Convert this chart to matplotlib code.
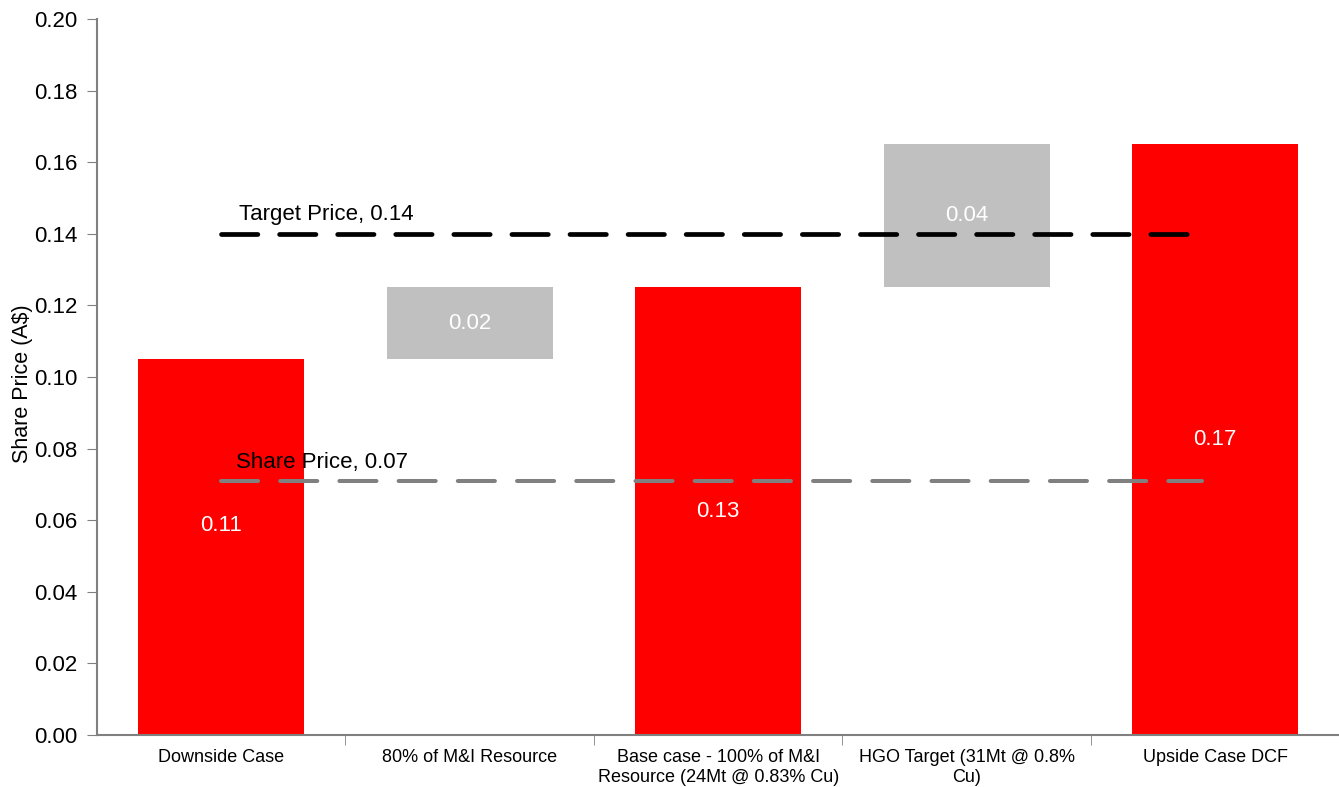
import numpy as np
import matplotlib.pyplot as plt

plt.rcParams['font.family'] = ['Liberation Sans', 'DejaVu Sans']

categories = ["Downside Case", "80% of M&I Resource",
              "Base case - 100% of M&I\nResource (24Mt @ 0.83% Cu)",
              "HGO Target (31Mt @ 0.8%\nCu)", "Upside Case DCF"]
bar_bottoms = [0.0, 0.105, 0.0, 0.125, 0.0]
bar_heights = [0.105, 0.02, 0.125, 0.04, 0.165]
value_labels = ["0.11", "0.02", "0.13", "0.04", "0.17"]
bar_colors = ["#FF0000", "#C0C0C0", "#FF0000", "#C0C0C0", "#FF0000"]
target_price = 0.14
share_price = 0.071

fig = plt.figure(figsize=(13.39, 7.87), dpi=100)
ax = fig.add_axes([0.0724, 0.066, 0.928, 0.910])

x = np.arange(len(categories))
ax.bar(x, bar_heights, bottom=bar_bottoms, width=0.667, color=bar_colors, zorder=2)

# value labels in the middle of each bar
for i in range(len(x)):
    yc = bar_bottoms[i] + bar_heights[i] / 2
    if i == 0:
        yc += 0.006  # Excel nudged this one up
    ax.text(x[i], yc, value_labels[i], color="white", ha="center", va="center",
            fontsize=16, zorder=4)

# reference lines
x_end = x[-1] - 0.055
ax.plot([x[0], x_end], [target_price, target_price], color="black",
        lw=3.4, dashes=(7.7, 4.6), dash_capstyle="round", zorder=3)
ax.plot([x[0], x_end], [share_price, share_price], color="#808080",
        lw=2.9, dashes=(9.2, 5.5), dash_capstyle="round", zorder=3)
ax.text(x[0] + 0.07, target_price + 0.0055, f"Target Price, {target_price:.2f}",
        fontsize=16, ha="left", va="center", zorder=5)
ax.text(x[0] + 0.06, share_price + 0.005, f"Share Price, {share_price:.2f}",
        fontsize=16, ha="left", va="center", zorder=5)

ax.set_xlim(-0.5, len(categories) - 0.5)
ax.set_ylim(0, 0.20)
ax.set_yticks(np.arange(0, 0.201, 0.02))
ax.yaxis.set_major_formatter(plt.FuncFormatter(lambda v, p: f"{v:.2f}"))
ax.set_xticks(x)
ax.set_xticklabels(categories, fontsize=13, linespacing=1.25)
ax.set_xticks(np.arange(0.5, len(categories) - 1, 1), minor=True)
ax.tick_params(axis="x", which="major", length=0, pad=10)
ax.tick_params(axis="x", which="minor", length=7, color="#808080", direction="out")
ax.tick_params(axis="y", length=7, color="#808080", labelsize=16, pad=7)
ax.set_ylabel("Share Price (A$)", fontsize=15.5)
ax.yaxis.label.set_verticalalignment("center")
ax.yaxis.set_label_coords(-0.06, 0.49)

for s in ["top", "right"]:
    ax.spines[s].set_visible(False)
for s in ["left", "bottom"]:
    ax.spines[s].set_color("#808080")
    ax.spines[s].set_linewidth(1.5)

fig.savefig("out.png", dpi=100)
